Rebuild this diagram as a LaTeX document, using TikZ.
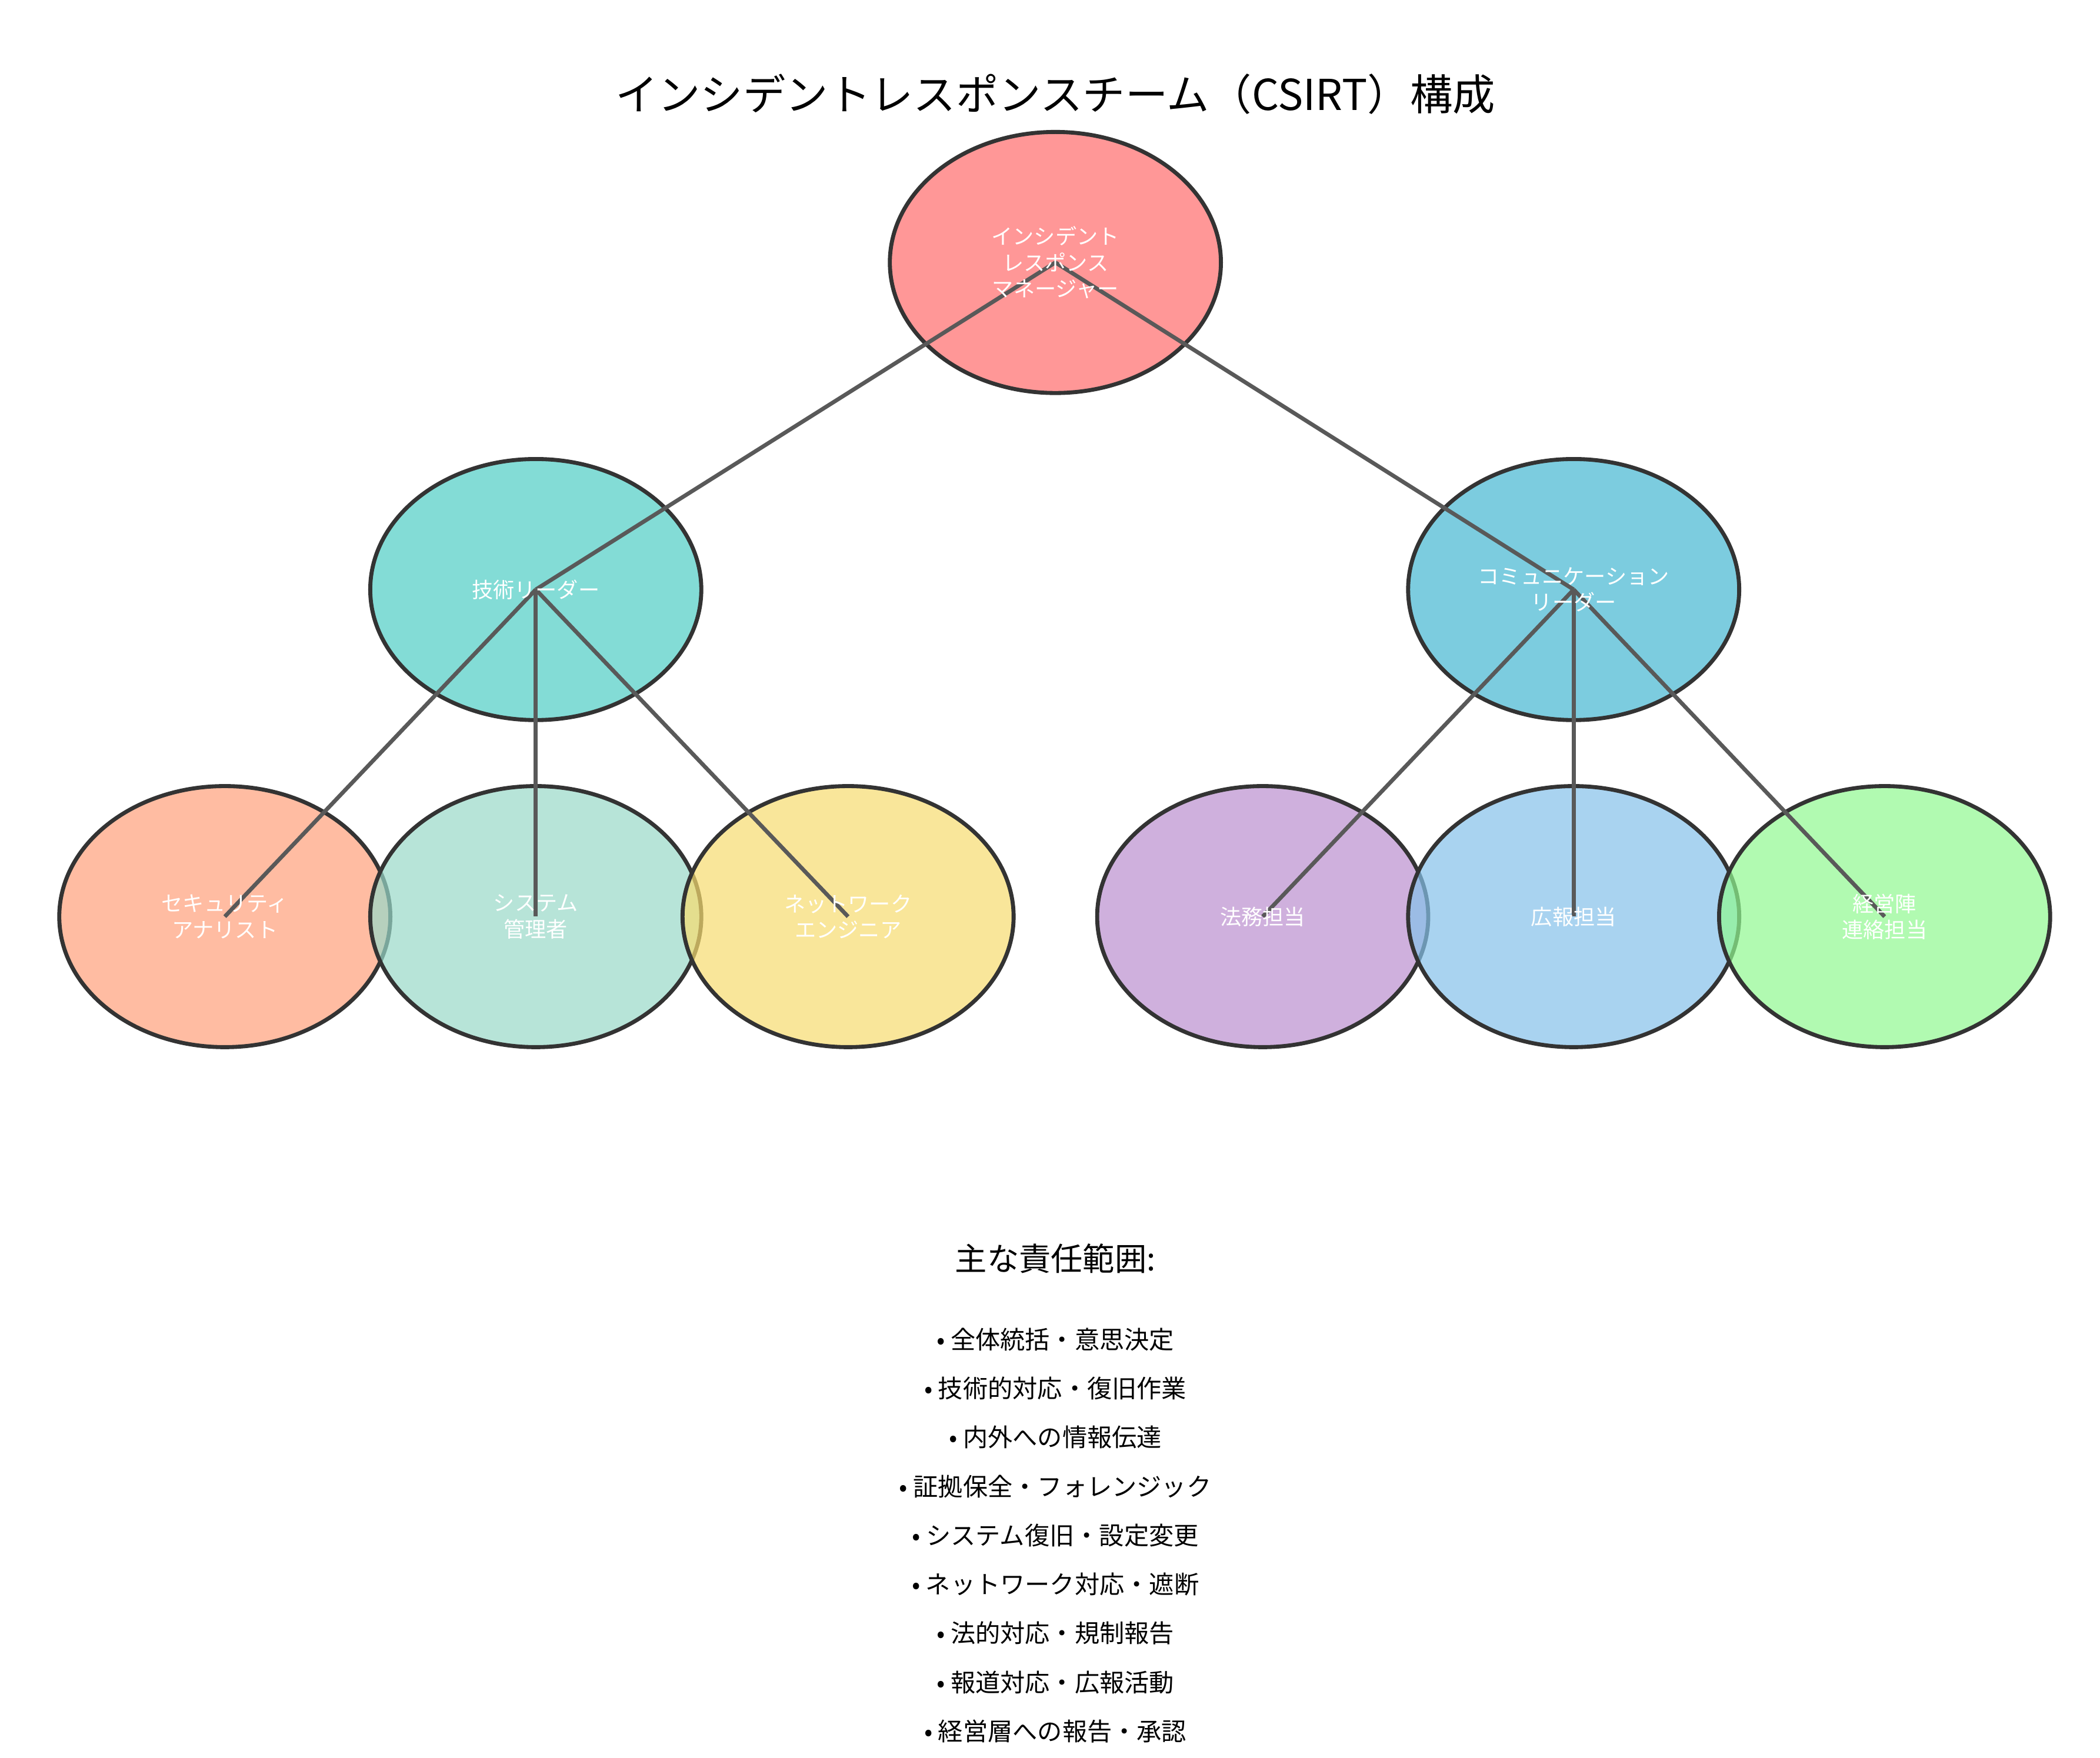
\documentclass[tikz,border=0pt]{standalone}
\usepackage{fontspec}
\setmainfont{Noto Sans CJK JP}
\usetikzlibrary{shapes.geometric}
\definecolor{mgrc}{HTML}{FF6B6B}
\definecolor{techc}{HTML}{4ECDC4}
\definecolor{commc}{HTML}{45B7D1}
\definecolor{secc}{HTML}{FFA07A}
\definecolor{sysc}{HTML}{98D8C8}
\definecolor{netc}{HTML}{F7DC6F}
\definecolor{legc}{HTML}{BB8FCE}
\definecolor{prc}{HTML}{85C1E9}
\definecolor{exc}{HTML}{90F890}
\tikzset{
  role/.style={ellipse, draw=black!80, line width=1.7pt, fill opacity=0.7,
    minimum width=4.92cm, minimum height=3.88cm},
  link/.style={draw=black!65, line width=1.7pt},
  lbl/.style={text=white, font=\fontsize{9}{11}\selectfont, align=center},
  item/.style={font=\fontsize{10.5}{12}\selectfont}
}
\begin{document}
\begin{tikzpicture}[x=0.02cm,y=-0.02cm]
    \useasboundingbox (0,0) rectangle (1560,1306);
    \node[font=\fontsize{18}{22}\selectfont] (title) at (784,70) {インシデントレスポンスチーム（CSIRT）構成};

    % roles
    \node[role, fill=mgrc] (mgr) at (784,195) {};
    \node[role, fill=techc] (tech) at (398,438) {};
    \node[role, fill=commc] (comm) at (1169,438) {};
    \node[role, fill=secc] (sec) at (167,681) {};
    \node[role, fill=sysc] (sys) at (398,681) {};
    \node[role, fill=netc] (net) at (630,681) {};
    \node[role, fill=legc] (legal) at (938,681) {};
    \node[role, fill=prc] (pr) at (1169,681) {};
    \node[role, fill=exc] (exec) at (1400,681) {};

    % links
    \draw[link] (mgr.center) -- (tech.center);
    \draw[link] (mgr.center) -- (comm.center);
    \foreach \c in {sec,sys,net} \draw[link] (tech.center) -- (\c.center);
    \foreach \c in {legal,pr,exec} \draw[link] (comm.center) -- (\c.center);

    % labels
    \node[lbl] at (mgr) {インシデント\\レスポンス\\マネージャー};
    \node[lbl] at (tech) {技術リーダー};
    \node[lbl] at (comm) {コミュニケーション\\リーダー};
    \node[lbl] at (sec) {セキュリティ\\アナリスト};
    \node[lbl] at (sys) {システム\\管理者};
    \node[lbl] at (net) {ネットワーク\\エンジニア};
    \node[lbl] at (legal) {法務担当};
    \node[lbl] at (pr) {広報担当};
    \node[lbl] at (exec) {経営陣\\連絡担当};

    % responsibilities
    \node[font=\fontsize{13.5}{16}\selectfont] (resp) at (784,935) {主な責任範囲:};
    \foreach \t [count=\i] in {全体統括・意思決定, 技術的対応・復旧作業, 内外への情報伝達,
        証拠保全・フォレンジック, システム復旧・設定変更, ネットワーク対応・遮断,
        法的対応・規制報告, 報道対応・広報活動, 経営層への報告・承認}
      \node[item] at (784,958.6+36.4*\i) {• \t};
\end{tikzpicture}
\end{document}
